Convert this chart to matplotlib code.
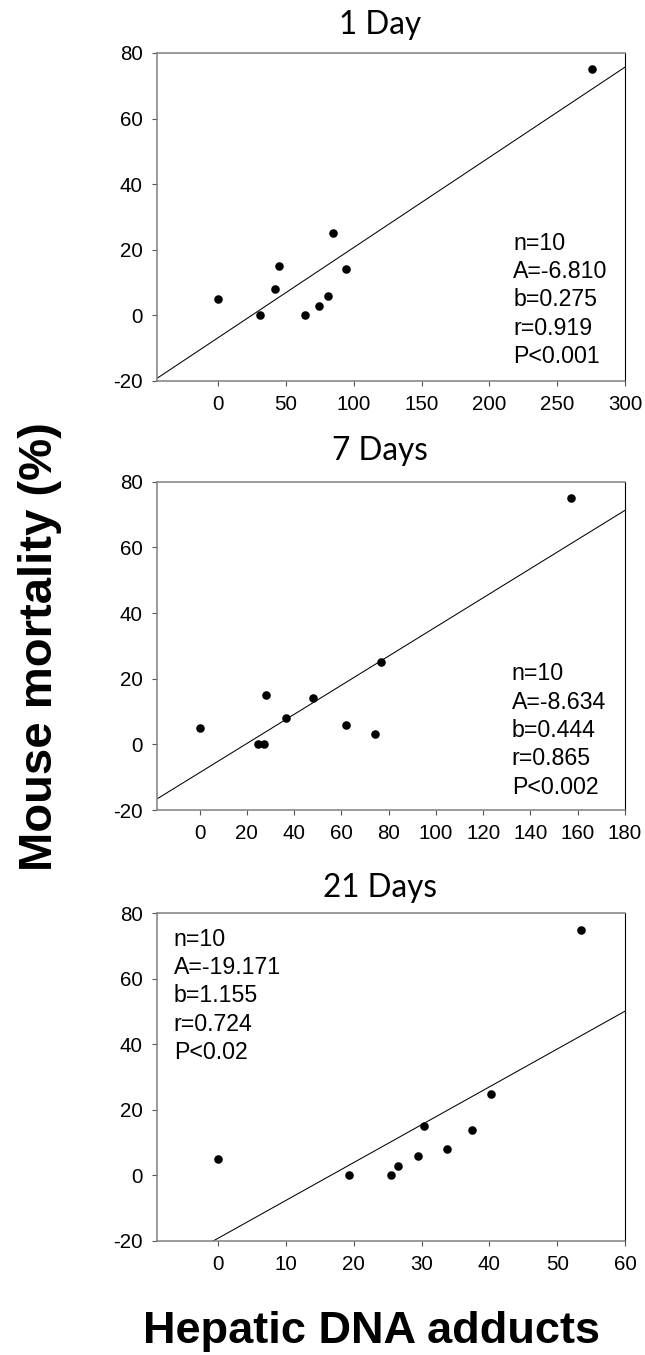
import matplotlib
matplotlib.use("Agg")
import matplotlib.pyplot as plt
import numpy as np

plt.rcParams["axes.unicode_minus"] = False

# hepatic DNA adducts (x) vs mouse mortality % (y)
titles = ["1 Day", "7 Days", "21 Days"]
adducts_1d = [0, 31, 42, 45, 64, 74.5, 81, 84.5, 94.5, 276]
mortality_1d = [5, 0, 8, 15, 0, 3, 6, 25, 14, 75]
adducts_7d = [0, 24.7, 27.2, 28, 36.5, 47.8, 62, 74.2, 76.8, 157.3]
mortality_7d = [5, 0, 0, 15, 8, 14, 6, 3, 25, 75]
adducts_21d = [0, 19.3, 25.5, 26.6, 29.5, 30.4, 33.8, 37.5, 40.2, 53.5]
mortality_21d = [5, 0, 0, 3, 6, 15, 8, 14, 25, 75]

# regression results printed in each panel
intercepts = [-6.810, -8.634, -19.171]
slopes = [0.275, 0.444, 1.155]
r_values = ["0.919", "0.865", "0.724"]
p_values = ["P<0.001", "P<0.002", "P<0.02"]

x_limits = [(-45, 300), (-18, 180), (-9, 60)]
x_ticks = [np.arange(0, 301, 50), np.arange(0, 181, 20), np.arange(0, 61, 10)]
y_ticks = np.arange(-20, 81, 20)

W, H = 645, 1355
fig = plt.figure(figsize=(W / 100, H / 100), dpi=100)

# axes boxes in pixels: (top, bottom)
boxes = [(53, 381), (481.7, 810), (913.3, 1241)]
left_px, right_px = 157, 625
title_base = [34, 460, 897]
# stats block: (x frac, first line center px from top of axes)
stats_pos = [(0.761, 243.3 - 53), (0.758, 674 - 481.7), (0.036, 939.3 - 913.3)]

xs = [adducts_1d, adducts_7d, adducts_21d]
ys = [mortality_1d, mortality_7d, mortality_21d]

for i in range(3):
    top, bot = boxes[i]
    ax = fig.add_axes([left_px / W, 1 - bot / H, (right_px - left_px) / W, (bot - top) / H])
    ax.scatter(xs[i], ys[i], s=38, color="black", zorder=3, linewidths=0)
    xl = np.array(x_limits[i])
    ax.plot(xl, intercepts[i] + slopes[i] * xl, color="black", lw=0.75)
    ax.set_xlim(*x_limits[i])
    ax.set_ylim(-20, 80)
    ax.set_xticks(x_ticks[i])
    ax.set_yticks(y_ticks)
    ax.tick_params(direction="out", length=3.3, width=0.8, color="#555555",
                   pad=7, labelsize=14.8)
    for lab in ax.get_xticklabels() + ax.get_yticklabels():
        lab.set_fontfamily("Liberation Sans")
    for side in ["top", "left", "bottom"]:
        ax.spines[side].set_color("#808080")
        ax.spines[side].set_linewidth(1.1)
    ax.spines["right"].set_color("black")
    ax.spines["right"].set_linewidth(0.8)

    lines = ["n=10", "A=%.3f" % intercepts[i], "b=%.3f" % slopes[i],
             "r=" + r_values[i], p_values[i]]
    hpx = bot - top
    tx, first = stats_pos[i]
    for k, s in enumerate(lines):
        ax.text(tx, 1 - (first + k * 28.3) / hpx, s, transform=ax.transAxes,
                va="center", ha="left", fontsize=16.7, family="Liberation Sans")

    fig.text(380 / W, 1 - title_base[i] / H, titles[i], ha="center", va="baseline",
             fontsize=22.7, family="Lato")

fig.text(40 / W, 1 - 647 / H, "Mouse mortality (%)", rotation=90, ha="center",
         va="center", fontsize=34, fontweight="bold", family="Liberation Sans")
fig.text(371.5 / W, 1 - 1343 / H, "Hepatic DNA adducts", ha="center", va="baseline",
         fontsize=32.5, fontweight="bold", family="Liberation Sans")

fig.savefig("out.png", dpi=100)
